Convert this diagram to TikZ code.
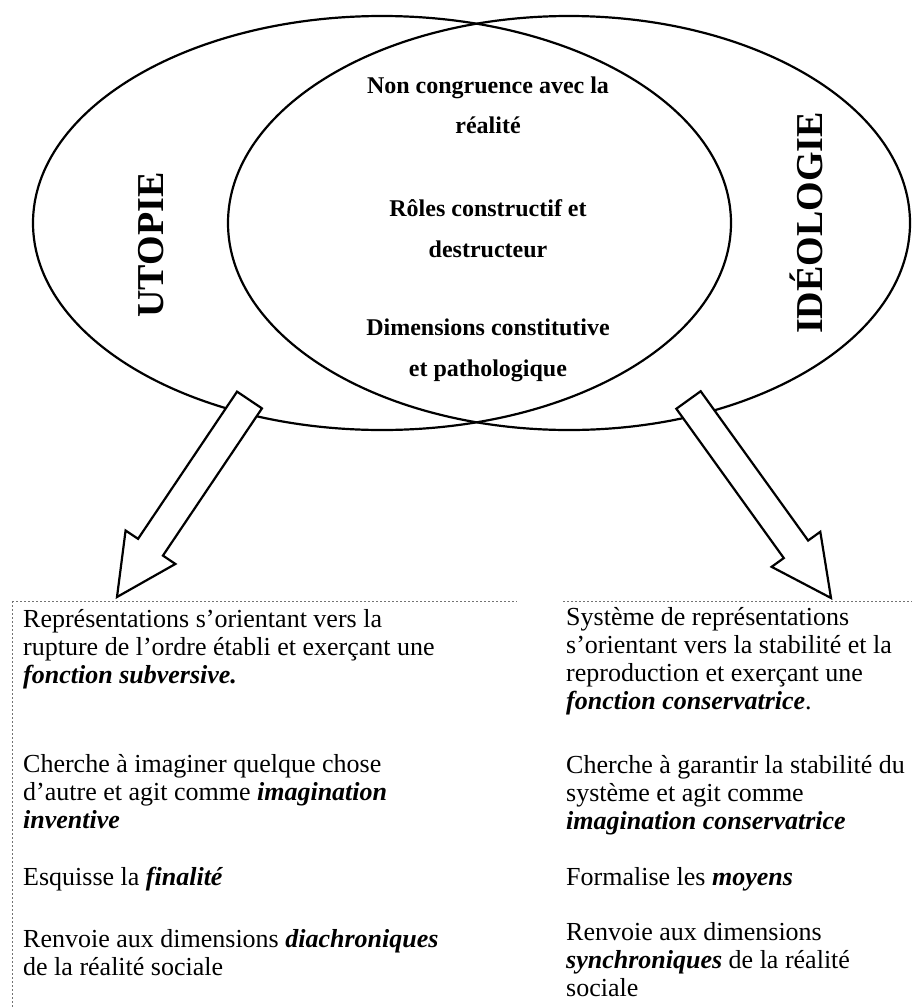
\documentclass[tikz,border=0pt]{standalone}
\usepackage{fontspec}
\setmainfont{Liberation Serif}
\usetikzlibrary{calc,shapes.geometric}
\newcommand\bi[1]{\textbf{\textit{#1}}}
\newcommand\lpar[2]{\vtop{\baselineskip=#1\lineskiplimit=-50pt\lineskip=0pt\halign{##\hfil\cr#2}}}
\newcommand\cpar[2]{\vtop{\baselineskip=#1\lineskiplimit=-50pt\lineskip=0pt\halign{\hfil##\hfil\cr#2}}}
\newcommand\blockarrow[2]{%
  \coordinate (ba-n) at ($(#2)!60pt!(#1)$);
  \draw[blockarr] ($(#1)!15pt!90:(#2)$) -- ($(ba-n)!15pt!-90:(#1)$) -- ($(ba-n)!30pt!-90:(#1)$) -- (#2)
     -- ($(ba-n)!30pt!90:(#1)$) -- ($(ba-n)!15pt!90:(#1)$) -- ($(#1)!15pt!-90:(#2)$) -- cycle;}
\begin{document}
\begin{tikzpicture}[x=1pt,y=-1pt,
  venn/.style={draw,ellipse,line width=2.2pt,inner sep=0pt},
  blockarr/.style={draw,line width=2.2pt,fill=white,line join=miter},
  frame/.style={draw=black!55,line width=0.7pt,dash pattern=on 2pt off 2pt},
  midtext/.style={inner sep=0pt,anchor=base,font=\fontsize{24}{24}\selectfont\bfseries},
  bigtitle/.style={inner sep=0pt,anchor=base,rotate=90,font=\fontsize{38}{38}\selectfont\bfseries},
  body/.style={inner sep=0pt,anchor=base west,font=\fontsize{26}{28}\selectfont}]
\useasboundingbox (0,0) rectangle (912,1007);
\fill[white] (0,0) rectangle (912,1007);

% Venn ellipses
\node[venn,minimum width=698pt,minimum height=414pt] (utop) at (382,223) {};
\node[venn,minimum width=682pt,minimum height=414pt] (ideo) at (569,223) {};

% titles
\node[bigtitle] (tu) at (163,245) {UTOPIE};
\node[bigtitle] (ti) at (822,223) {IDÉOLOGIE};

% common features
\node[midtext] (c1) at (488,93) {\cpar{40pt}{Non congruence avec la\cr réalité\cr}};
\node[midtext] (c2) at (488,216) {\cpar{41pt}{Rôles constructif et\cr destructeur\cr}};
\node[midtext] (c3) at (488,335) {\cpar{41pt}{Dimensions constitutive\cr et pathologique\cr}};

% block arrows
\coordinate (lt) at (249.5,400);
\coordinate (lh) at (117,597);
\coordinate (rt) at (688.5,400);
\coordinate (rh) at (831,598);
\blockarrow{lt}{lh}
\blockarrow{rt}{rh}

% faint box frames
\draw[frame] (12,601) -- (517,601);
\draw[frame] (563,601) -- (912,601);
\draw[frame] (12,601) -- (12,1007);

% left column
\node[body] (l1) at (23,627) {\lpar{28pt}{Représentations s’orientant vers la\cr rupture de l’ordre établi et exerçant une\cr \bi{fonction subversive.}\cr}};
\node[body] (l2) at (23,772) {\lpar{28pt}{Cherche à imaginer quelque chose\cr d’autre et agit comme \bi{imagination}\cr \bi{inventive}\cr}};
\node[body] (l3) at (23,885) {\lpar{28pt}{Esquisse la \bi{finalité}\cr}};
\node[body] (l4) at (23,947) {\lpar{28pt}{Renvoie aux dimensions \bi{diachroniques}\cr de la réalité sociale\cr}};

% right column
\node[body] (r1) at (566,625) {\lpar{28.3pt}{Système de représentations\cr s’orientant vers la stabilité et la\cr reproduction et exerçant une\cr \bi{fonction conservatrice}.\cr}};
\node[body] (r2) at (566,773) {\lpar{28pt}{Cherche à garantir la stabilité du\cr système et agit comme\cr \bi{imagination conservatrice}\cr}};
\node[body] (r3) at (566,885) {\lpar{28pt}{Formalise les \bi{moyens}\cr}};
\node[body] (r4) at (566,940) {\lpar{28pt}{Renvoie aux dimensions\cr \bi{synchroniques} de la réalité\cr sociale\cr}};
\end{tikzpicture}
\end{document}
